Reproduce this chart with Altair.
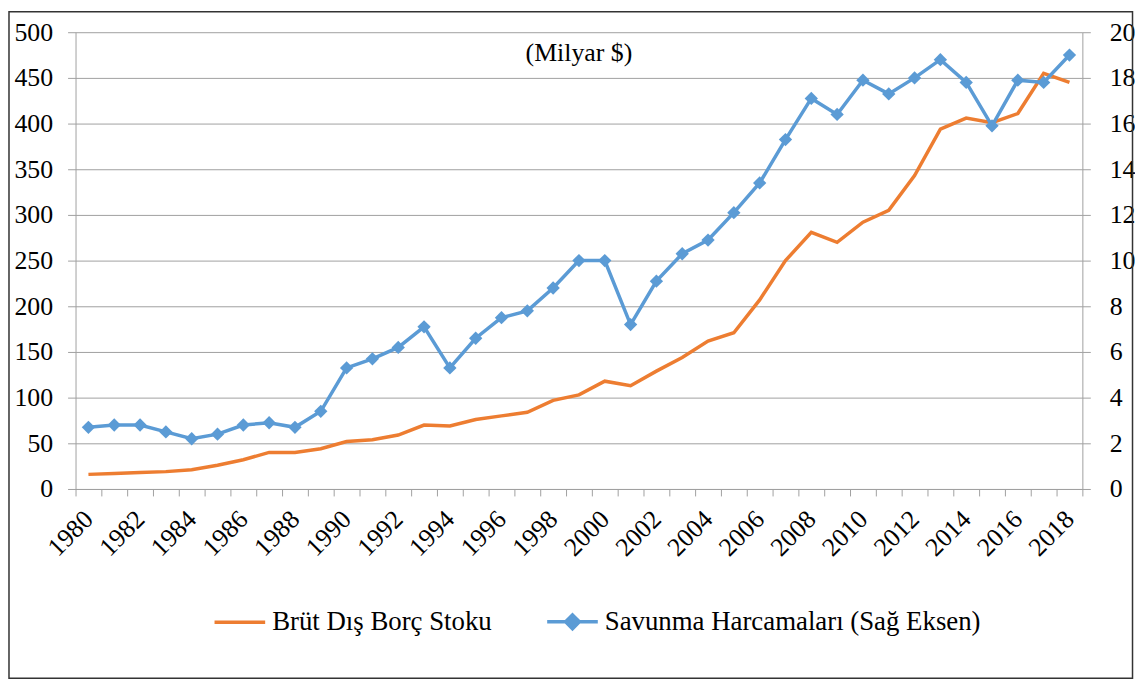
import altair as alt
import pandas as pd

years = list(range(1980, 2019))
debt = [16, 17, 18, 19, 21, 26, 32, 40, 40, 44, 52, 54, 59, 70, 69,
        76, 80, 84, 97, 103, 118, 113, 129, 144, 162, 171, 207,
        250, 281, 270, 292, 305, 343, 394, 406, 401, 411, 455, 445]
defense = [2.7, 2.8, 2.8, 2.5, 2.2, 2.4, 2.8, 2.9, 2.7, 3.4, 5.3, 5.7, 6.2, 7.1, 5.3,
           6.6, 7.5, 7.8, 8.8, 10.0, 10.0, 7.2, 9.1, 10.3, 10.9, 12.1, 13.4,
           15.3, 17.1, 16.4, 17.9, 17.3, 18.0, 18.8, 17.8, 15.9, 17.9, 17.8, 19.0]
series_names = ["Brüt Dış Borç Stoku", "Savunma Harcamaları (Sağ Eksen)"]
series_colors = ["#ED7D31", "#5B9BD5"]
left_ticks = list(range(0, 501, 50))
right_ticks = list(range(0, 21, 2))
title_text = "(Milyar $)"

FONT = "Liberation Serif"
GRAY = "#a0a0a0"
W, H = 1014, 460

df = pd.DataFrame({"year": years, "debt": debt, "defense": defense})

x_enc = alt.X(
    "year:O",
    scale=alt.Scale(type="band", paddingInner=0, paddingOuter=0),
    bandPosition=0.5,
    axis=alt.Axis(
        title=None, labelAngle=-45, labelAlign="right", labelBaseline="middle",
        labelExpr="datum.value % 2 == 0 ? datum.label : ''",
        labelOverlap=False, tickBand="extent", tickSize=7, tickColor=GRAY,
        domainColor=GRAY, labelFont=FONT, labelFontSize=26, labelColor="black",
        labelPadding=19, grid=False,
    ),
)

base = alt.Chart(df)

debt_line = base.mark_line(strokeWidth=3.5, color=series_colors[0]).encode(
    x=x_enc,
    y=alt.Y(
        "debt:Q",
        scale=alt.Scale(domain=[0, 500], nice=False),
        axis=alt.Axis(
            orient="left", title=None, values=left_ticks, grid=True, gridColor=GRAY,
            tickSize=8, tickColor=GRAY, domainColor=GRAY, labelFont=FONT,
            labelFontSize=26, labelColor="black", labelPadding=15,
        ),
    ),
)

y_right = alt.Y(
    "defense:Q",
    scale=alt.Scale(domain=[0, 20], nice=False),
    axis=alt.Axis(
        orient="right", title=None, values=right_ticks, grid=False,
        tickSize=8, tickColor=GRAY, domainColor=GRAY, labelFont=FONT,
        labelFontSize=26, labelColor="black", labelPadding=19,
    ),
)

def_line = base.mark_line(strokeWidth=3.5, color=series_colors[1]).encode(x=x_enc, y=y_right)
def_pts = base.mark_point(shape="diamond", size=180, filled=True, opacity=1,
                          color=series_colors[1]).encode(x=x_enc, y=y_right)
defense_layer = alt.layer(def_line, def_pts)

# legend (driven by scales, no visible data marks)
leg_df = pd.DataFrame({"series": series_names})
leg = alt.Legend(
    title=None, orient="none", legendX=138, legendY=566, direction="horizontal",
    columns=2, labelFont=FONT, labelFontSize=27, labelColor="black",
    symbolSize=2600, symbolStrokeWidth=3.5, columnPadding=48, labelOffset=5,
    padding=0, labelLimit=600,
)
paths = ["M-1,0H1", "M-1,0H1M0,-0.27L0.27,0L0,0.27L-0.27,0Z"]
legend_layer = alt.Chart(leg_df).transform_filter("false").mark_point(
    filled=True, strokeWidth=3.5, opacity=1
).encode(
    shape=alt.Shape("series:N", scale=alt.Scale(domain=series_names, range=paths), legend=leg),
    fill=alt.Fill("series:N", scale=alt.Scale(domain=series_names, range=series_colors), legend=leg),
    stroke=alt.Stroke("series:N", scale=alt.Scale(domain=series_names, range=series_colors), legend=leg),
)

one = pd.DataFrame({"t": [title_text]})
title_layer = alt.Chart(one).mark_text(
    font=FONT, fontSize=26, color="black", align="center", baseline="middle"
).encode(text="t:N", x=alt.value(W / 2), y=alt.value(21))

border = alt.Chart(one).mark_rect(
    filled=False, stroke="#333333", strokeWidth=1.5
).encode(
    x=alt.value(-67), x2=alt.value(1064.5), y=alt.value(-20.5), y2=alt.value(650.5)
)

chart = alt.layer(
    debt_line, defense_layer, legend_layer, title_layer, border
).resolve_scale(y="independent").properties(
    width=W, height=H, padding=0, background="white"
).configure_view(strokeWidth=0)

chart.save("out.html", embed_options={"renderer": "svg", "actions": False})
